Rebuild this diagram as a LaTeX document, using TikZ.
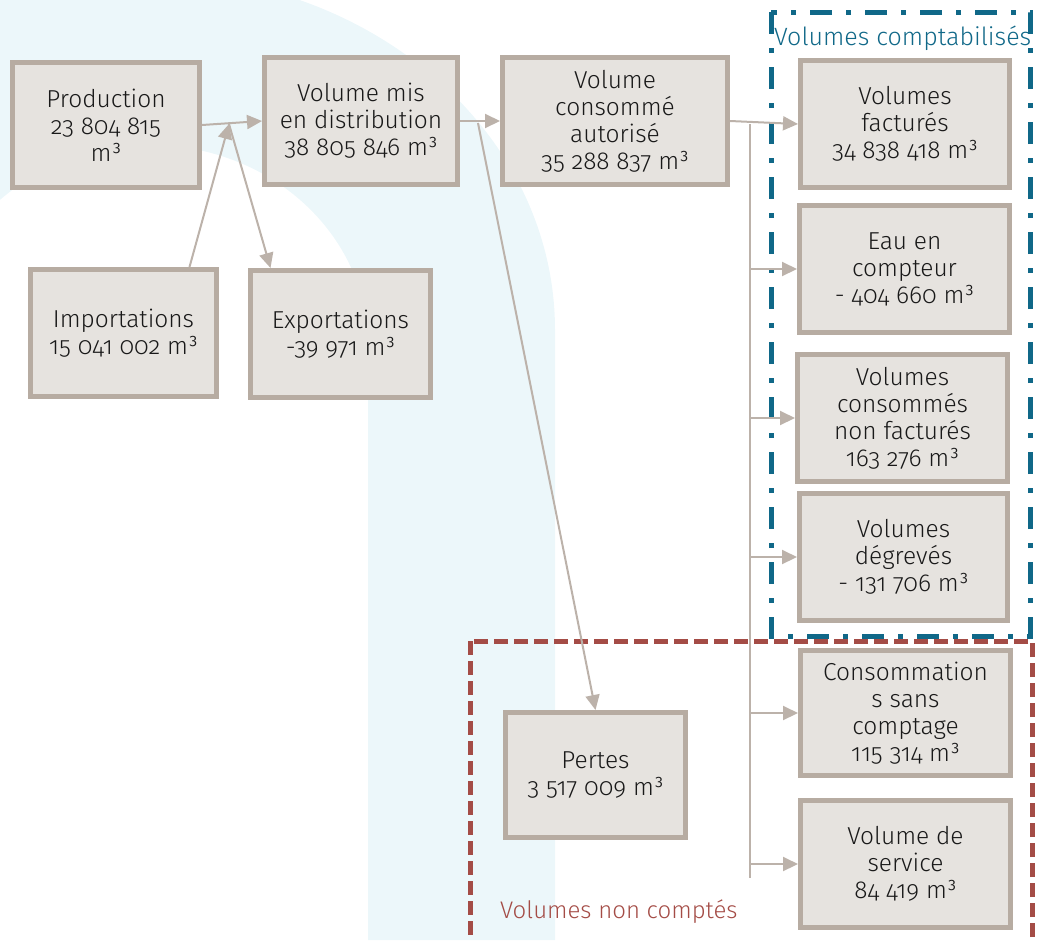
\documentclass[tikz,border=0pt]{standalone}
\usepackage{fontspec}
\setmainfont{Fira Sans Light}[Numbers=OldStyle]
\usetikzlibrary{arrows.meta}
\definecolor{boxfill}{RGB}{230,227,223}
\definecolor{boxline}{RGB}{183,172,162}
\definecolor{arrowc}{RGB}{188,178,170}
\definecolor{bgblue}{RGB}{236,247,250}
\definecolor{dblue}{RGB}{16,104,136}
\definecolor{dred}{RGB}{164,76,70}
\definecolor{txt}{RGB}{25,25,25}
\begin{document}
\begin{tikzpicture}[x=1pt,y=-1pt,
  box/.style={draw=boxline, fill=boxfill, line width=5pt, align=center, inner sep=0pt,
    font=\fontsize{24.5}{27}\selectfont, text=txt},
  flow/.style={draw=arrowc, line width=2pt, -{Triangle[length=15pt,width=14pt]}},
  plain/.style={draw=arrowc, line width=2pt},
  grouplabel/.style={font=\fontsize{25}{27}\selectfont, inner sep=0pt, anchor=west}]
\useasboundingbox (0,0) rectangle (1040,940);
\begin{scope}
  \clip (0,0) rectangle (1040,940);
  \fill[bgblue] (555,940) -- (555,330)
    arc[start angle=0,end angle=180,x radius=405pt,y radius=355pt]
    -- (-68,345)
    arc[start angle=180,end angle=0,x radius=218pt,y radius=200pt]
    -- (368,940) -- cycle;
\end{scope}
% group frames
\draw[dblue, line width=5pt, dash pattern=on 22pt off 14pt on 5pt off 14pt] (771,12) rectangle (1030,636);
\node[grouplabel, text=dblue] (lblue) at (774,38) {Volumes comptabilisés};
\draw[dred, line width=5pt, dash pattern=on 14pt off 6pt] (470,641) rectangle (1032,948);
\node[grouplabel, text=dred, font=\fontsize{24}{27}\selectfont] (lred) at (500,912) {Volumes non comptés};
% boxes
\node[box, minimum width=187pt, minimum height=125pt] (prod) at (106,125) {Production\\23 804 815\\m³};
\node[box, minimum width=193pt, minimum height=127pt] (vm) at (361,121) {Volume mis\\en distribution\\38 805 846 m³};
\node[box, minimum width=225pt, minimum height=127pt] (vc) at (615,121) {Volume\\consommé\\autorisé\\35 288 837 m³};
\node[box, minimum width=186pt, minimum height=127pt] (imp) at (123.5,333) {Importations\\15 041 002 m³};
\node[box, minimum width=180pt, minimum height=127pt] (exp) at (340.5,334) {Exportations\\-39 971 m³};
\node[box, minimum width=209pt, minimum height=127pt] (fact) at (905,124) {Volumes\\facturés\\34 838 418 m³};
\node[box, minimum width=210pt, minimum height=127pt] (eau) at (904.5,269) {Eau en\\compteur\\- 404 660 m³};
\node[box, minimum width=210pt, minimum height=127pt] (ncf) at (902.5,418) {Volumes\\consommés\\non facturés\\163 276 m³};
\node[box, minimum width=208pt, minimum height=127pt] (deg) at (903.5,557) {Volumes\\dégrevés\\- 131 706 m³};
\node[box, minimum width=210pt, minimum height=125pt] (csc) at (905.5,713) {Consommation\\s sans\\comptage\\115 314 m³};
\node[box, minimum width=210pt, minimum height=127pt] (serv) at (905.5,864) {Volume de\\service\\84 419 m³};
\node[box, minimum width=180pt, minimum height=125pt] (pertes) at (595.5,775) {Pertes\\3 517 009 m³};
% connectors
\coordinate (j) at (229,124);
\coordinate (k) at (478,123);
\coordinate (t0) at (750,124);
\coordinate (t1) at (750,878);
\draw[flow] (prod.east) -- (vm.west);
\draw[flow] ([xshift=66pt]imp.north) -- (j);
\draw[flow] (j) -- ([xshift=-70pt]exp.north);
\draw[flow] (vm.east) -- (vc.west);
\draw[flow] (k) -- (pertes.north);
\draw[flow] (vc.east) -- (fact.west);
\draw[plain] (t0) -- (t1);
\draw[flow] (t0 |- eau.west) -- (eau.west);
\draw[flow] (t0 |- ncf.west) -- (ncf.west);
\draw[flow] (t0 |- deg.west) -- (deg.west);
\draw[flow] (t0 |- csc.west) -- (csc.west);
\draw[flow] (t0 |- serv.west) -- (serv.west);
\end{tikzpicture}
\end{document}
